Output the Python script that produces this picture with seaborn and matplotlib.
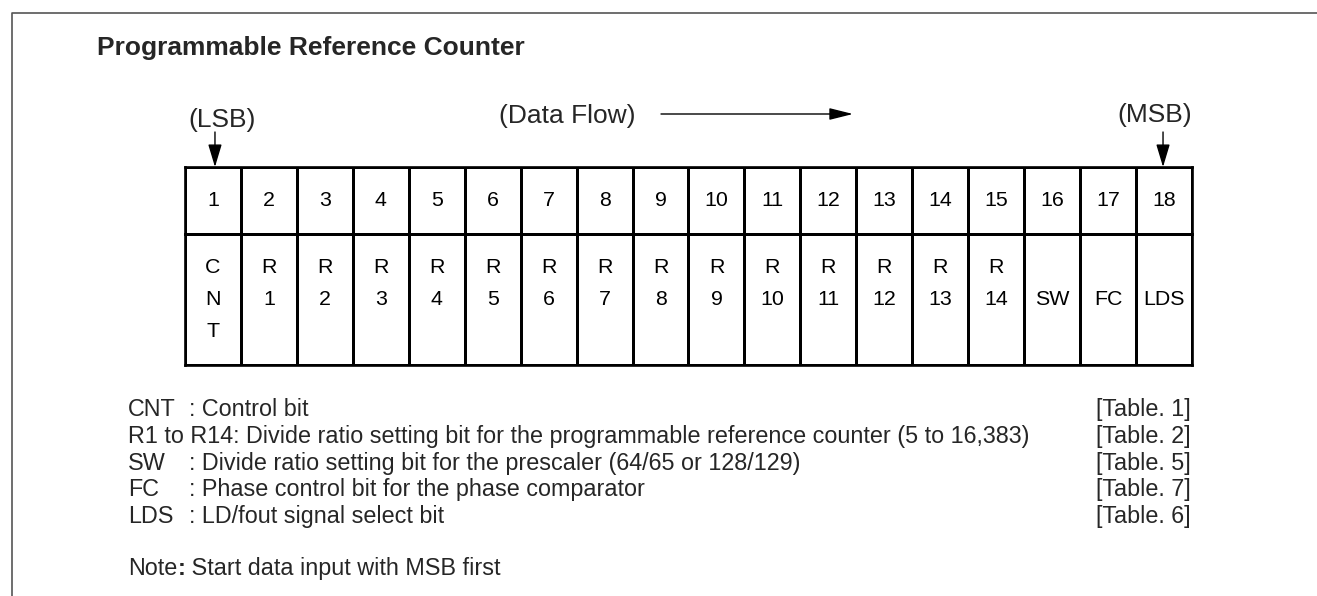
import numpy as np
import matplotlib
matplotlib.use("Agg")
import matplotlib.pyplot as plt
from matplotlib.colors import ListedColormap
import seaborn as sns

sns.set_style("white")
plt.rcParams['font.family'] = ['Liberation Sans', 'DejaVu Sans']

# bit positions and what each one holds
bit_numbers = ["1", "2", "3", "4", "5", "6", "7", "8", "9", "10",
               "11", "12", "13", "14", "15", "16", "17", "18"]
bit_labels = ["C\nN\nT", "R\n1", "R\n2", "R\n3", "R\n4", "R\n5", "R\n6",
              "R\n7", "R\n8", "R\n9", "R\n10", "R\n11", "R\n12", "R\n13",
              "R\n14", "SW", "FC", "LDS"]

# legend under the table
note_keys = ["CNT", "R1 to R14", "SW", "FC", "LDS"]
note_texts = ["Control bit",
              "Divide ratio setting bit for the programmable reference counter (5 to 16,383)",
              "Divide ratio setting bit for the prescaler (64/65 or 128/129)",
              "Phase control bit for the phase comparator",
              "LD/fout signal select bit"]
note_tables = ["[Table. 1]", "[Table. 2]", "[Table. 5]", "[Table. 7]", "[Table. 6]"]

W, H = 1317, 596
fig = plt.figure(figsize=(W / 100, H / 100), dpi=100)

# background axes in pixel units for frame, titles, arrows, notes
ax0 = fig.add_axes([0, 0, 1, 1])
ax0.set_xlim(0, W)
ax0.set_ylim(H, 0)
ax0.axis("off")

# table geometry (pixels)
tl, tr = 185, 1192
t_top, t_mid, t_bot = 167, 234, 365
colw = (tr - tl) / len(bit_numbers)


def pad_label(s):
    # put every label on a 3-line grid: 1-line labels sit on the middle row
    parts = s.split("\n")
    if len(parts) == 1:
        parts = [" ", parts[0], " "]
    while len(parts) < 3:
        parts.append(" ")
    return "\n".join(parts)


rows = [
    (t_top, t_mid, np.array([bit_numbers]), {}),
    (t_mid, t_bot, np.array([[pad_label(s) for s in bit_labels]]), {"linespacing": 1.88}),
]
white = ListedColormap(["white"])
for y0, y1, annot, extra in rows:
    ax = fig.add_axes([tl / W, 1 - y1 / H, (tr - tl) / W, (y1 - y0) / H])
    sns.heatmap(np.zeros(annot.shape), ax=ax, cmap=white, cbar=False,
                vmin=0, vmax=1, linewidths=1.0, linecolor="black",
                annot=annot, fmt="",
                annot_kws=dict(fontsize=15.4, color="black", **extra))
    ax.set_xticks([])
    ax.set_yticks([])
    for sp in ax.spines.values():
        sp.set_visible(True)
        sp.set_linewidth(1.9)
        sp.set_color("black")

# outer frame (top and left only)
ax0.plot([12, 12, W], [H, 13, 13], color="#555555", lw=1.2)

ax0.text(97, 55, "Programmable Reference Counter", fontsize=19,
         fontweight="bold", va="baseline", ha="left")

# LSB / MSB markers
lsb_x = tl + colw * 0.5 + 2
msb_x = tl + colw * 17.5 - 1
ax0.text(222, 127, "(LSB)", fontsize=19, ha="center", va="baseline")
ax0.text(1155, 122, "(MSB)", fontsize=19, ha="center", va="baseline")
head = dict(arrowstyle="-|>,head_length=1.0,head_width=0.3", color="black",
            lw=1.0, mutation_scale=14, shrinkA=0, shrinkB=0)
ax0.annotate("", xy=(lsb_x, t_top), xytext=(lsb_x, 132), arrowprops=head)
ax0.annotate("", xy=(msb_x, t_top), xytext=(msb_x, 132), arrowprops=head)

ax0.text(567, 123, "(Data Flow)", fontsize=19, ha="center", va="baseline")
flow = dict(arrowstyle="-|>,head_length=1.0,head_width=0.25", color="black",
            lw=1.0, mutation_scale=14.5, shrinkA=0, shrinkB=0)
ax0.annotate("", xy=(853, 114), xytext=(661, 114), arrowprops=flow)

# notes
fs = 16.8
base = 416
step = 26.8
for i, (k, txt, tb) in enumerate(zip(note_keys, note_texts, note_tables)):
    y = base + i * step
    if k.startswith("R1"):
        ax0.text(128, y, f"{k}: {txt}", fontsize=fs, va="baseline")
    else:
        ax0.text(128, y, k, fontsize=fs, va="baseline")
        ax0.text(189, y, f": {txt}", fontsize=fs, va="baseline")
    ax0.text(1096, y, tb, fontsize=fs, va="baseline")

t1 = ax0.text(128, 575, "Note", fontsize=fs, va="baseline")
t2 = ax0.annotate(":", xy=(1, 0), xycoords=t1, va="bottom", ha="left",
                  fontsize=fs, fontweight="bold")
ax0.annotate(" Start data input with MSB first", xy=(1, 0), xycoords=t2,
             va="bottom", ha="left", fontsize=fs)

fig.savefig("out.png", dpi=100)
